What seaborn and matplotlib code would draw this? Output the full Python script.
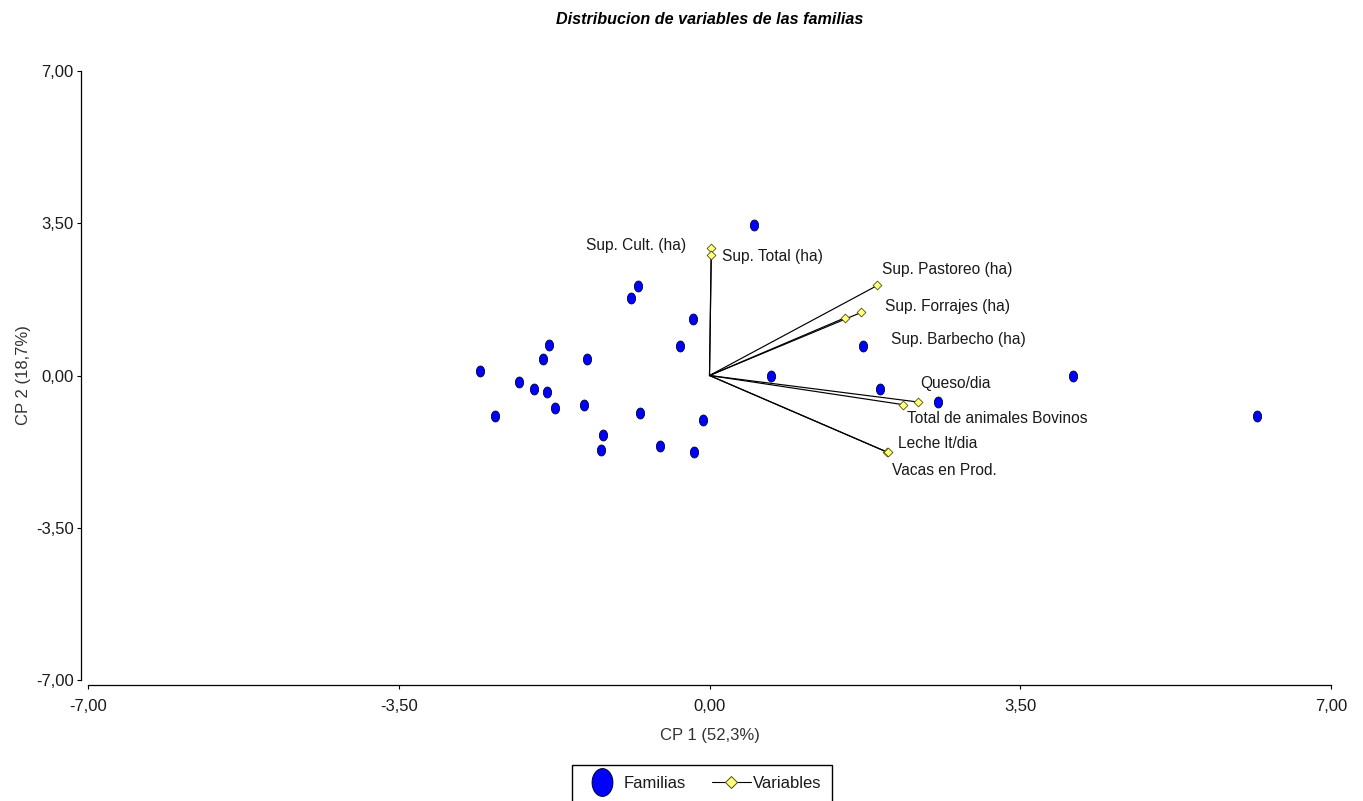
import numpy as np
import pandas as pd
import matplotlib
matplotlib.use("Agg")
import matplotlib.pyplot as plt
from matplotlib.lines import Line2D
from matplotlib.path import Path
from matplotlib.ticker import FuncFormatter
from matplotlib.font_manager import FontProperties
import seaborn as sns

# Scores of the families on the first two principal components
familia_cp1 = [0.50, -0.81, -0.88, -0.19, -0.33, -1.81, -1.88, -1.38, -2.58,
               -2.14, -1.98, -1.83, -1.74, -1.41, -2.42, -0.78, -0.07, -1.20,
               -1.22, -0.56, -0.17, 0.69, 1.73, 1.92, 2.57, 4.09, 6.17]
familia_cp2 = [3.45, 2.05, 1.79, 1.29, 0.67, 0.71, 0.37, 0.39, 0.11,
               -0.16, -0.30, -0.39, -0.74, -0.67, -0.94, -0.87, -1.03, -1.36,
               -1.72, -1.63, -1.77, -0.02, 0.67, -0.32, -0.60, -0.02, -0.92]

# Loadings of the original variables (vector tips)
variables = ["Sup. Cult. (ha)", "Sup. Total (ha)", "Sup. Pastoreo (ha)",
             "Sup. Forrajes (ha)", "Sup. Barbecho (ha)", "Queso/dia",
             "Total de animales Bovinos", "Leche lt/dia", "Vacas en Prod."]
variable_cp1 = [0.02, 0.02, 1.89, 1.71, 1.53, 2.35, 2.18, 2.00, 2.01]
variable_cp2 = [2.94, 2.78, 2.07, 1.45, 1.33, -0.61, -0.67, -1.76, -1.77]

axis_ticks = [-7.0, -3.5, 0.0, 3.5, 7.0]

# Label placement next to each vector tip: (dx px, dy px downward, alignment)
label_offsets = {
    "Sup. Cult. (ha)": (-25, -2, "right"),
    "Sup. Total (ha)": (11, 2, "left"),
    "Sup. Pastoreo (ha)": (5, -16, "left"),
    "Sup. Forrajes (ha)": (24, -6, "left"),
    "Sup. Barbecho (ha)": (46, 22, "left"),
    "Queso/dia": (2, -19, "left"),
    "Total de animales Bovinos": (4, 14, "left"),
    "Leche lt/dia": (11, -9, "left"),
    "Vacas en Prod.": (4, 18, "left"),
}

sns.set_theme(style="white")
narrow = ["Liberation Sans Narrow", "Liberation Sans", "DejaVu Sans"]
regular = ["Liberation Sans", "DejaVu Sans"]
plt.rcParams["font.family"] = regular

W, H = 1363, 801
fig = plt.figure(figsize=(W / 100, H / 100), dpi=100)
ax = fig.add_axes([88 / W, (H - 680) / H, 1243 / W, 609 / H])

# slightly tall ellipse used as the family marker
t = np.linspace(0, 2 * np.pi, 64)
ellipse = Path(np.column_stack([0.75 * np.cos(t), np.sin(t)]), closed=True)

# vectors from the origin to each variable
seg_rows = []
for name, x, y in zip(variables, variable_cp1, variable_cp2):
    seg_rows.append({"variable": name, "cp1": 0.0, "cp2": 0.0})
    seg_rows.append({"variable": name, "cp1": x, "cp2": y})
segments = pd.DataFrame(seg_rows)
sns.lineplot(data=segments, x="cp1", y="cp2", units="variable",
             estimator=None, sort=False, color="black", lw=0.85, ax=ax,
             legend=False, zorder=2)

sns.scatterplot(x=familia_cp1, y=familia_cp2, marker=ellipse, s=62,
                color="#0000ff", edgecolor="#000030", linewidth=0.6,
                ax=ax, zorder=3, legend=False)

sns.scatterplot(x=variable_cp1, y=variable_cp2, marker="D", s=20,
                color="#ffff80", edgecolor="#505000", linewidth=0.6,
                ax=ax, zorder=4, legend=False)

for name, x, y in zip(variables, variable_cp1, variable_cp2):
    dx, dy, ha = label_offsets[name]
    ax.annotate(name, (x, y), xytext=(dx * 0.72, -dy * 0.72),
                textcoords="offset points", ha=ha, va="center",
                fontsize=11.2, family=narrow, color="#1a1a1a", zorder=5)

ax.set_xlim(-7, 7)
ax.set_ylim(-7, 7)
ax.set_xticks(axis_ticks)
ax.set_yticks(axis_ticks)
fmt = FuncFormatter(lambda v, p: f"{v:.2f}".replace(".", ","))
ax.xaxis.set_major_formatter(fmt)
ax.yaxis.set_major_formatter(fmt)

sns.despine(ax=ax)
ax.spines["left"].set_position(("outward", 5))
ax.spines["bottom"].set_position(("outward", 3.6))
for side in ("left", "bottom"):
    ax.spines[side].set_color("black")
    ax.spines[side].set_linewidth(0.9)
ax.tick_params(axis="both", direction="out", length=3.2, width=0.8,
               colors="black", labelsize=12, bottom=True, left=True)
ax.tick_params(axis="x", pad=7)
ax.tick_params(axis="y", pad=2)
for lab in ax.get_xticklabels() + ax.get_yticklabels():
    lab.set_color("#1a1a1a")

ax.set_xlabel("CP 1 (52,3%)", fontsize=12, color="#333333", labelpad=10)
ax.set_ylabel("CP 2 (18,7%)", fontsize=12, color="#333333", labelpad=4)

fig.text(710 / W, 1 - 19 / H, "Distribucion de variables de las familias",
         ha="center", va="center", fontsize=11.6, fontweight="bold",
         style="italic", family=narrow, color="black")

handles = [
    Line2D([], [], linestyle="none", marker=ellipse, markersize=20,
           markerfacecolor="#0000ff", markeredgecolor="#000030", mew=0.7),
    Line2D([], [], color="black", lw=0.8, marker="D", markersize=6,
           markerfacecolor="#ffff80", markeredgecolor="#505000", mew=0.7),
]
leg = fig.legend(handles, ["Familias", "Variables"], loc="upper center",
                 bbox_to_anchor=(702 / W, 1 - 765 / H), ncol=2,
                 frameon=True, fancybox=False, edgecolor="black",
                 framealpha=1, prop=FontProperties(family=narrow, size=12),
                 handlelength=2.35, handletextpad=0.1, columnspacing=1.55,
                 borderpad=0.65, borderaxespad=0, numpoints=1)
leg.get_frame().set_linewidth(1.0)
for txt in leg.get_texts():
    txt.set_color("#1a1a1a")

fig.savefig("out.png", dpi=100, facecolor="white")
